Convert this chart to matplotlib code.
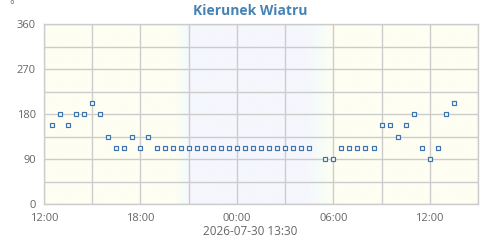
import numpy as np
import pandas as pd
import matplotlib
matplotlib.use("Agg")
import matplotlib.pyplot as plt
import matplotlib.dates as mdates
from matplotlib.colors import LinearSegmentedColormap

plt.rcParams['font.family'] = ['Open Sans', 'DejaVu Sans']

# wind direction readings (degrees), every 30 min
times = ["2026-07-29 12:30", "2026-07-29 13:00", "2026-07-29 13:30", "2026-07-29 14:00",
         "2026-07-29 14:30", "2026-07-29 15:00", "2026-07-29 15:30", "2026-07-29 16:00",
         "2026-07-29 16:30", "2026-07-29 17:00", "2026-07-29 17:30", "2026-07-29 18:00",
         "2026-07-29 18:30", "2026-07-29 19:00", "2026-07-29 19:30", "2026-07-29 20:00",
         "2026-07-29 20:30", "2026-07-29 21:00", "2026-07-29 21:30", "2026-07-29 22:00",
         "2026-07-29 22:30", "2026-07-29 23:00", "2026-07-29 23:30", "2026-07-30 00:00",
         "2026-07-30 00:30", "2026-07-30 01:00", "2026-07-30 01:30", "2026-07-30 02:00",
         "2026-07-30 02:30", "2026-07-30 03:00", "2026-07-30 03:30", "2026-07-30 04:00",
         "2026-07-30 04:30", "2026-07-30 05:30", "2026-07-30 06:00", "2026-07-30 06:30",
         "2026-07-30 07:00", "2026-07-30 07:30", "2026-07-30 08:00", "2026-07-30 08:30",
         "2026-07-30 09:00", "2026-07-30 09:30", "2026-07-30 10:00", "2026-07-30 10:30",
         "2026-07-30 11:00", "2026-07-30 11:30", "2026-07-30 12:00", "2026-07-30 12:30",
         "2026-07-30 13:00", "2026-07-30 13:30"]
direction = [157.5, 180, 157.5, 180,
             180, 202.5, 180, 135,
             112.5, 112.5, 135, 112.5,
             135, 112.5, 112.5, 112.5,
             112.5, 112.5, 112.5, 112.5,
             112.5, 112.5, 112.5, 112.5,
             112.5, 112.5, 112.5, 112.5,
             112.5, 112.5, 112.5, 112.5,
             112.5, 90, 90, 112.5,
             112.5, 112.5, 112.5, 112.5,
             157.5, 157.5, 135, 157.5,
             180, 112.5, 90, 112.5,
             180, 202.5]

x_start = pd.Timestamp("2026-07-29 12:00")
x_end = pd.Timestamp("2026-07-30 15:00")
# day / night shading (dusk and dawn fades)
dusk = (pd.Timestamp("2026-07-29 20:15"), pd.Timestamp("2026-07-29 21:00"))
dawn = (pd.Timestamp("2026-07-30 04:30"), pd.Timestamp("2026-07-30 06:00"))

t = pd.to_datetime(times)

fig = plt.figure(figsize=(5, 2.4), dpi=100)
ax = fig.add_axes([0.088, 0.149, 0.868, 0.75])

# background gradient
x0, x1 = mdates.date2num(x_start), mdates.date2num(x_end)
xs = np.linspace(x0, x1, 2000)
d0, d1 = mdates.date2num(dusk[0]), mdates.date2num(dusk[1])
w0, w1 = mdates.date2num(dawn[0]), mdates.date2num(dawn[1])
night = np.clip((xs - d0) / (d1 - d0), 0, 1) * np.clip((w1 - xs) / (w1 - w0), 0, 1)
cmap = LinearSegmentedColormap.from_list("daynight", ["#fefef2", "#f6fdf8", "#f5f7fd"])
ax.imshow(night[np.newaxis, :], aspect='auto', cmap=cmap, vmin=0, vmax=1,
          extent=[x0, x1, 0, 360], zorder=0, interpolation='bilinear')

ax.plot(t, direction, linestyle='none', marker='s', markersize=2.3,
        markerfacecolor='#f4f7fb', markeredgecolor='#3d72aa', markeredgewidth=0.85, zorder=3)

ax.set_xlim(x_start, x_end)
ax.set_ylim(0, 360)
ax.set_yticks(np.arange(0, 361, 45))
ax.set_yticklabels([str(v) if v % 90 == 0 else "" for v in range(0, 361, 45)])
ax.xaxis.set_major_locator(mdates.HourLocator(byhour=[0, 6, 12, 18]))
ax.xaxis.set_minor_locator(mdates.HourLocator(byhour=range(0, 24, 3)))
ax.xaxis.set_major_formatter(mdates.DateFormatter("%H:%M"))
ax.grid(True, which='both', color='#cccccc', linewidth=1, zorder=1)
ax.set_axisbelow(False)
for s in ax.spines.values():
    s.set_color('#cccccc')
    s.set_linewidth(1)
ax.tick_params(which='both', length=0, labelsize=8, labelcolor='#666666')
ax.tick_params(axis='x', pad=6)
ax.tick_params(axis='y', pad=6)

fig.text(0.5, 0.955, "Kierunek Wiatru", ha='center', va='center',
         fontsize=10, fontweight='bold', color='#4682b4')
fig.text(0.024, 0.978, "°", ha='center', va='center', fontsize=8, color='#666666')
fig.text(0.5, 0.035, "2026-07-30 13:30", ha='center', va='center',
         fontsize=8.5, color='#666666')

fig.savefig("out.png", dpi=100)
